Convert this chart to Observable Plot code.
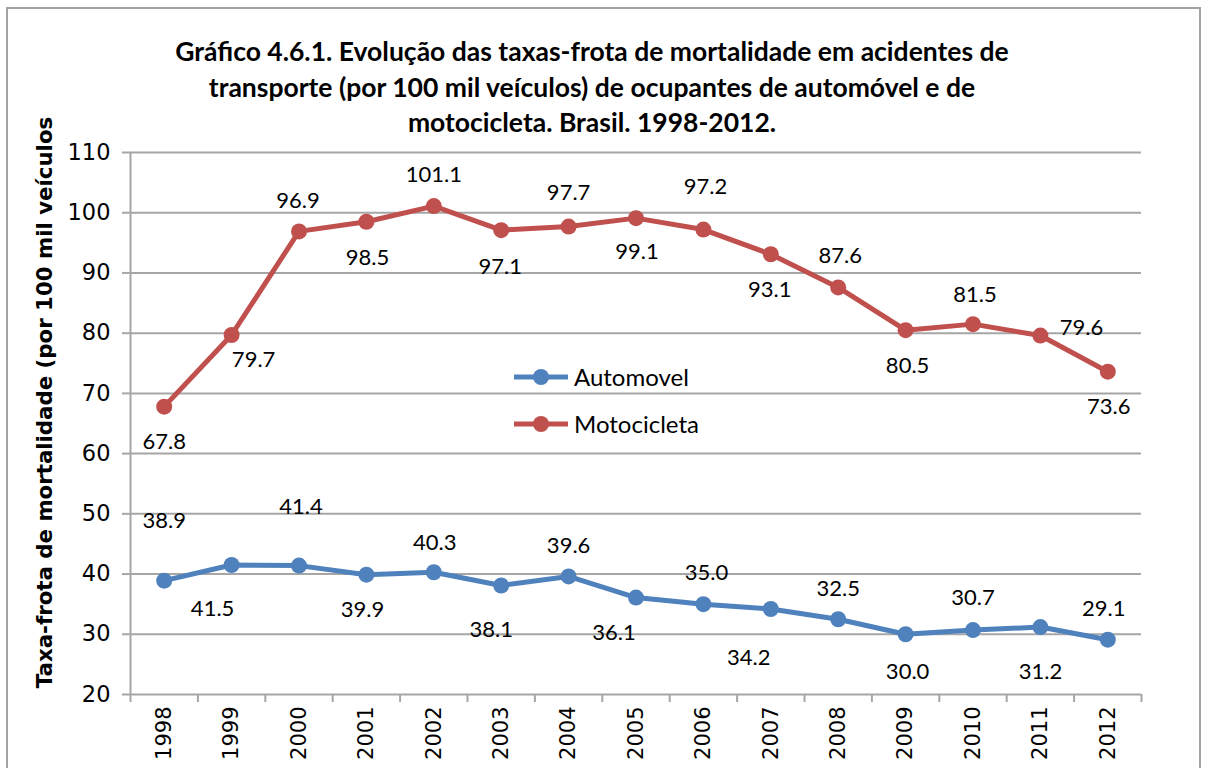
<!DOCTYPE html>
<html>
<head>
<meta charset="utf-8">
<script src="https://cdn.jsdelivr.net/npm/d3@7"></script>
<script src="https://cdn.jsdelivr.net/npm/@observablehq/plot@0.6"></script>
<style>
  html, body { margin: 0; padding: 0; background: #fff; }
  #wrap { position: relative; width: 1208px; height: 768px; overflow: hidden; }
  #frame { position: absolute; left: 6px; top: 7px; width: 1195px; height: 800px; border: 2px solid #A3A3A3; box-sizing: border-box; pointer-events: none; }
  #title { box-sizing: border-box; height: 140px; padding-top: 34px; width: 1184px; text-align: center;
           font-family: Lato, "Open Sans", sans-serif; font-weight: bold; font-size: 26.5px; line-height: 35.5px; color: #000; white-space: nowrap; }
  #legend { position: absolute; left: 512px; top: 353px; font-family: Lato, sans-serif; font-size: 24px; color: #000; }
  #legend .row { display: flex; align-items: center; height: 47px; }
  #legend svg { display: block; margin-right: 4px; }
</style>
</head>
<body>
<div id="wrap">
  <div id="title">Gráfico 4.6.1. Evolução das taxas-frota de mortalidade em acidentes de<br>transporte (por 100 mil veículos) de ocupantes de automóvel e de<br>motocicleta. Brasil. 1998-2012.</div>
  <div id="chart"></div>
  <div id="legend"></div>
  <div id="frame"></div>
</div>
<script>
// ---- data ----
const years = [1998, 1999, 2000, 2001, 2002, 2003, 2004, 2005, 2006, 2007, 2008, 2009, 2010, 2011, 2012];
const automovel = [38.9, 41.5, 41.4, 39.9, 40.3, 38.1, 39.6, 36.1, 35.0, 34.2, 32.5, 30.0, 30.7, 31.2, 29.1];
const motocicleta = [67.8, 79.7, 96.9, 98.5, 101.1, 97.1, 97.7, 99.1, 97.2, 93.1, 87.6, 80.5, 81.5, 79.6, 73.6];
const seriesNames = ["Automovel", "Motocicleta"];
const yTicks = [20, 30, 40, 50, 60, 70, 80, 90, 100, 110];
const yLabel = "Taxa-frota de mortalidade (por 100 mil veículos";

// ---- label placement (pixels, as in the reference) ----
const autoLabelDx = [0, -19, 2, -4, 1, -10, 0, -22, 3, -22, 0, 2, 0, 0, -4];
const autoLabelDy = [-60, 44, -59, 35, -29, 44, -31, 35, -31, 49, -30, 38, -32, 45, -31];
const motoLabelDx = [0, 22, -1, 1, 0, -1, 0, 1, 2, -1, 2, 2, 2, 41, 1];
const motoLabelDy = [35, 25, -30, 36, -31, 37, -34, 34, -43, 36, -31, 36, -29, -8, 35];

const colors = {Automovel: "#4F81BD", Motocicleta: "#C0504D"};
const gridColor = "#A6A6A6";

const rows = [];
years.forEach((yr, i) => {
  rows.push({year: yr, value: automovel[i], series: seriesNames[0], dx: autoLabelDx[i], dy: autoLabelDy[i]});
});
years.forEach((yr, i) => {
  rows.push({year: yr, value: motocicleta[i], series: seriesNames[1], dx: motoLabelDx[i], dy: motoLabelDy[i]});
});

const boundaries = d3.range(years[0] - 0.5, years[years.length - 1] + 1, 1);
const fmt = d3.format(".1f");

const labelMarks = rows.map(d => Plot.text([d], {
  x: "year", y: "value", text: r => fmt(r.value), dx: d.dx, dy: d.dy,
  fontFamily: "Lato, sans-serif", fontSize: 22, fill: "#000"
}));

const chart = Plot.plot({
  width: 1208,
  height: 628,
  marginLeft: 130,
  marginRight: 67,
  marginTop: 12,
  marginBottom: 74,
  style: {overflow: "visible", background: "transparent"},
  x: {type: "linear", domain: [years[0] - 0.5, years[years.length - 1] + 0.5]},
  y: {domain: [20, 110]},
  color: {domain: seriesNames, range: seriesNames.map(s => colors[s])},
  marks: [
    Plot.ruleY(yTicks, {stroke: gridColor, strokeWidth: 2}),
    Plot.ruleX([boundaries[0]], {y1: 20, y2: 110, stroke: gridColor, strokeWidth: 2}),
    Plot.axisY(yTicks, {tickSize: 8, tickPadding: 12, stroke: gridColor, strokeWidth: 2, strokeOpacity: 1,
      fontFamily: "DejaVu Sans, sans-serif", fontSize: 22.5, fill: "#000", label: null}),
    Plot.axisX(boundaries, {tickSize: 8, tickFormat: () => "", stroke: gridColor, strokeWidth: 2, strokeOpacity: 1, label: null}),
    Plot.axisX(years, {tickSize: 0, tickPadding: 12, tickRotate: -90, textAnchor: "end", tickFormat: d => String(d),
      fontFamily: "DejaVu Sans, sans-serif", fontSize: 21, fill: "#000", label: null}),
    Plot.text([yLabel], {frameAnchor: "left", textAnchor: "middle", rotate: -90, dx: -85, dy: -21, text: d => d,
      fontFamily: "DejaVu Sans, sans-serif", fontWeight: "bold", fontSize: 21.3, fill: "#000"}),
    Plot.line(rows, {x: "year", y: "value", z: "series", stroke: "series", strokeWidth: 5}),
    Plot.dot(rows, {x: "year", y: "value", fill: "series", r: 8, stroke: null}),
    ...labelMarks
  ]
});
document.getElementById("chart").appendChild(chart);

// legend
const legend = document.getElementById("legend");
seriesNames.forEach(name => {
  const row = document.createElement("div");
  row.className = "row";
  const c = colors[name];
  row.innerHTML = `<svg width="58" height="20"><line x1="2" y1="10" x2="56" y2="10" stroke="${c}" stroke-width="5"/><circle cx="29" cy="10" r="8" fill="${c}"/></svg><span>${name}</span>`;
  legend.appendChild(row);
});
</script>
</body>
</html>
